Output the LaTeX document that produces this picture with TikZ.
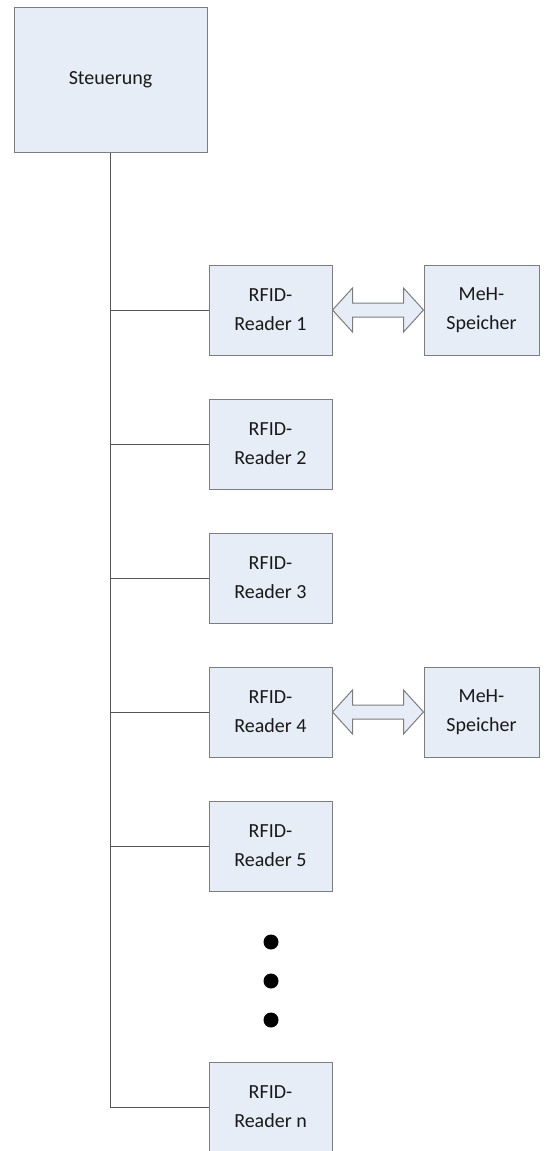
\documentclass[tikz,border=0pt]{standalone}
\usepackage{fontspec}
\setmainfont{Carlito}
\usetikzlibrary{calc}
\definecolor{boxfill}{RGB}{231,237,247}
\definecolor{boxline}{RGB}{125,125,125}
\definecolor{wire}{RGB}{85,85,85}
\definecolor{ink}{RGB}{25,25,25}
\tikzset{
  box/.style={draw=boxline,fill=boxfill,line width=1pt,text=ink,align=center,
    minimum height=90pt,minimum width=123pt,inner sep=0pt,
    font=\fontsize{20}{29}\selectfont},
  store/.style={box,minimum width=115pt},
  link/.style={draw=wire,line width=1pt},
  bigarrow/.style={draw=boxline,fill=boxfill,line width=1pt,line join=miter},
  dot/.style={circle,fill=black,inner sep=0pt,minimum size=15pt},
}
% double headed block arrow between two boxes
\newcommand\dblarrow[2]{%
  \draw[bigarrow] (#1.east) -- ($(#1.east)+(20,22)$) -- ($(#1.east)+(20,7)$)
    -- ($(#2.west)+(-20,7)$) -- ($(#2.west)+(-20,22)$) -- (#2.west)
    -- ($(#2.west)+(-20,-22)$) -- ($(#2.west)+(-20,-7)$)
    -- ($(#1.east)+(20,-7)$) -- ($(#1.east)+(20,-22)$) -- cycle;}

\begin{document}
\begin{tikzpicture}[x=1pt,y=-1pt]
  \useasboundingbox (0,0) rectangle (552,1151);
  \node[box,minimum width=193pt,minimum height=145pt] (st) at (110.5,79.5) {Steuerung};
  \foreach \i in {1,...,5}{
    \node[box] (r\i) at (270.5,{310+134*(\i-1)}) {RFID-\\Reader \i};
    \draw[link] (st.south |- r\i.west) -- (r\i.west);
  }
  \node[box] (rn) at (270.5,1107) {RFID-\\Reader n};
  \draw[link] (st.south) -- (st.south |- rn.west) -- (rn.west);
  \foreach \y [count=\i] in {942,981,1020}
    \node[dot] (d\i) at (271,\y) {};
  \node[store] (m1) at (481.5,310) {MeH-\\Speicher};
  \node[store] (m4) at (481.5,712) {MeH-\\Speicher};
  \dblarrow{r1}{m1}
  \dblarrow{r4}{m4}
\end{tikzpicture}
\end{document}
